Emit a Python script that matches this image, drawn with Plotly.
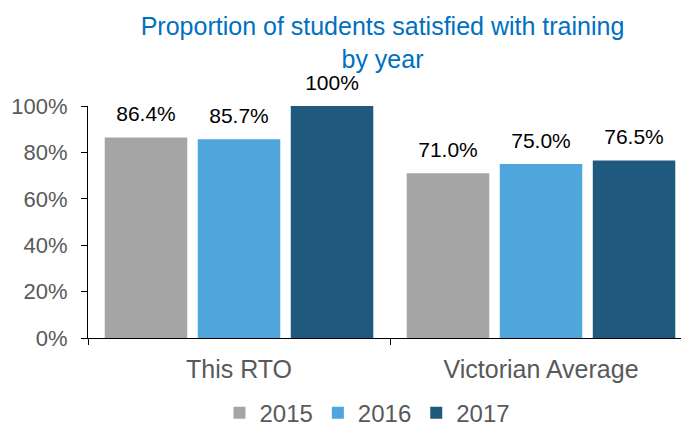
import plotly.graph_objects as go

groups = ['This RTO', 'Victorian Average']
years = ['2015', '2016', '2017']
vals_2015 = [86.4, 71.0]
vals_2016 = [85.7, 75.0]
vals_2017 = [100, 76.5]
labels_2015 = ['86.4%', '71.0%']
labels_2016 = ['85.7%', '75.0%']
labels_2017 = ['100%', '76.5%']
y_ticks = [0, 20, 40, 60, 80, 100]
y_ticktext = ['0%', '20%', '40%', '60%', '80%', '100%']

colors = ['#A5A5A5', '#4EA6DC', '#1F5A7E']
font = 'Arial, Liberation Sans, sans-serif'

# page body has an 8px default margin, so the figure is 8px smaller
fig = go.Figure()
for yr, v, c in zip(years, [vals_2015, vals_2016, vals_2017], colors):
    fig.add_trace(go.Bar(x=groups, y=v, name=yr, marker_color=c,
                         marker_line_width=0, offsetgroup=yr))

# value labels as text-only scatter, grouped like the bars, a bit higher than bar text
for yr, v, t in zip(years, [vals_2015, vals_2016, vals_2017],
                    [labels_2015, labels_2016, labels_2017]):
    fig.add_trace(go.Scatter(x=groups, y=v, text=t, mode='markers+text',
                             offsetgroup=yr, textposition='top center',
                             marker=dict(size=16, color='rgba(0,0,0,0)'),
                             textfont=dict(size=21, color='#000000', family=font),
                             cliponaxis=False, showlegend=False, hoverinfo='skip'))

fig.update_layout(
    width=681, height=422,
    paper_bgcolor='white', plot_bgcolor='white',
    margin=dict(l=80, r=0, t=98, b=92),
    barmode='group', bargap=0.076, bargroupgap=0.113,
    scattermode='group', scattergap=0.076,
    font=dict(family=font, color='#595959', size=20),
    title=dict(text='Proportion of students satisfied with training<br>by year',
               x=0.49, xref='paper', xanchor='center',
               y=0.935, yref='container', yanchor='middle',
               font=dict(size=25, color='#0070C0', family=font)),
    legend=dict(orientation='h', x=0.465, xanchor='center',
                y=0.04, yref='container', yanchor='middle',
                font=dict(size=24, color='#595959'),
                itemwidth=30, tracegroupgap=0),
    showlegend=True,
)
fig.update_xaxes(range=[-0.5, 1.49], showline=True, linecolor='#000000', linewidth=1,
                 ticks='outside', tickson='boundaries', ticklen=6, tickcolor='#000000',
                 tickfont=dict(size=25, color='#595959'), ticklabelstandoff=9,
                 showgrid=False, automargin=False)
fig.update_yaxes(range=[0, 100], showline=True, linecolor='#000000', linewidth=1,
                 ticks='outside', ticklen=6, tickcolor='#000000',
                 tickmode='array', tickvals=y_ticks, ticktext=y_ticktext,
                 tickfont=dict(size=22, color='#595959'), ticklabelstandoff=9,
                 showgrid=False, zeroline=False, automargin=False)

fig.write_html("out.html")
